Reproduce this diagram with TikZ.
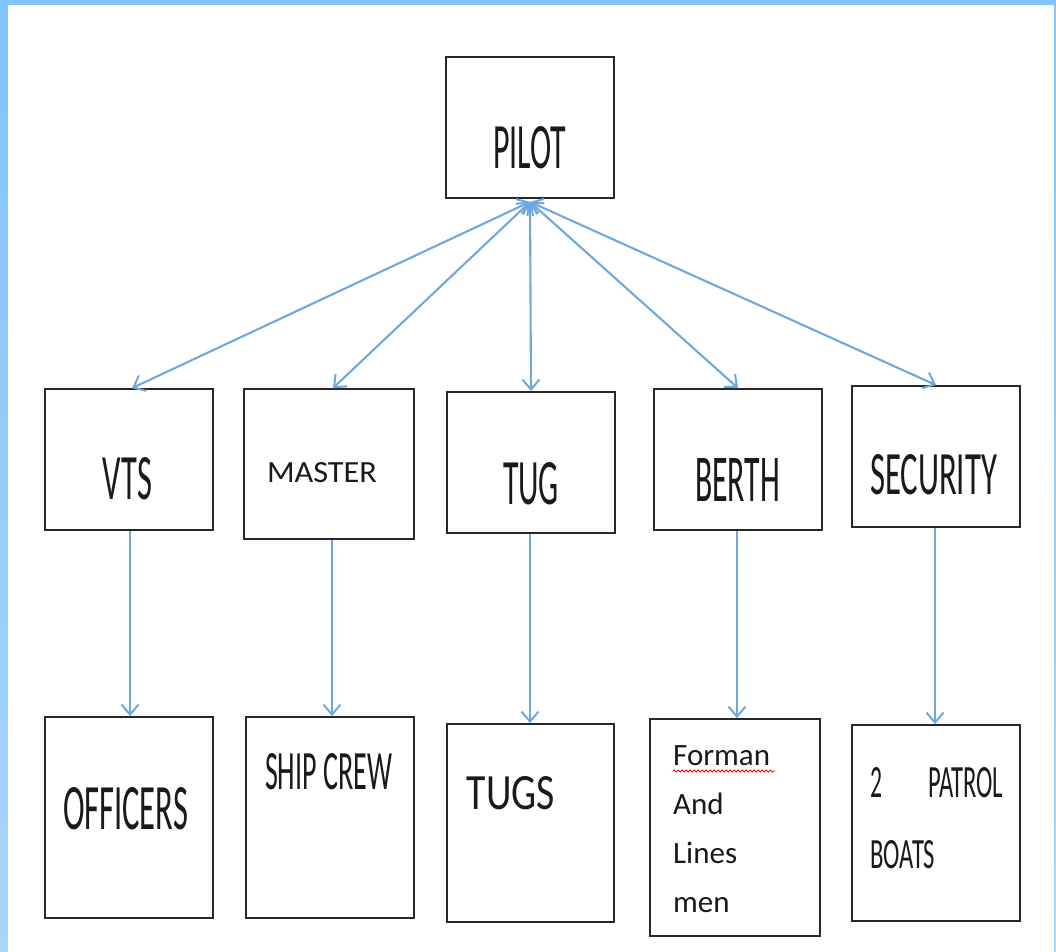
\documentclass[tikz,border=0pt]{standalone}
\usepackage{fontspec}
\setmainfont{Carlito}
\usepackage{graphicx}
\usetikzlibrary{arrows.meta,decorations.pathmorphing}
\definecolor{arrowblue}{RGB}{112,168,222}
\definecolor{frametop}{RGB}{130,195,250}
\definecolor{framebot}{RGB}{168,214,252}
\definecolor{boxline}{RGB}{40,40,40}
\definecolor{ink}{RGB}{25,25,30}
\newcommand{\cond}[3]{\resizebox{#1pt}{#2pt}{#3}}
\begin{document}
\begin{tikzpicture}[x=1pt,y=-1pt,
  orgbox/.style={draw=boxline, line width=1.8pt, fill=white, inner sep=0pt},
  lbl/.style={inner sep=0pt, text=ink},
  conn/.style={draw=arrowblue, line width=2.1pt},
  tipend/.style={-{Straight Barb[length=10pt,width=17pt,line width=2pt]}},
  tipboth/.style={{Straight Barb[length=10pt,width=17pt,line width=2pt]}-{Straight Barb[length=10pt,width=17pt,line width=2pt]}}
]
% frame
\useasboundingbox (0,0) rectangle (1056,951);
\shade[top color=frametop, bottom color=framebot] (0,0) rectangle (1056,951);
\fill[white] (8,5) rectangle (1054,960);

% boxes
\node[orgbox, minimum width=168pt, minimum height=141pt] (pilot) at (530,127.5) {};
\node[orgbox, minimum width=168pt, minimum height=141pt] (vts) at (129,459.5) {};
\node[orgbox, minimum width=170pt, minimum height=150pt] (master) at (329,464) {};
\node[orgbox, minimum width=168pt, minimum height=141pt] (tug) at (531,462.5) {};
\node[orgbox, minimum width=168pt, minimum height=141pt] (berth) at (738,459.5) {};
\node[orgbox, minimum width=168pt, minimum height=141pt] (security) at (936,456.5) {};
\node[orgbox, minimum width=168pt, minimum height=201pt] (officers) at (129,817.5) {};
\node[orgbox, minimum width=168pt, minimum height=201pt] (shipcrew) at (330,817.5) {};
\node[orgbox, minimum width=167pt, minimum height=198pt] (tugs) at (530.5,823) {};
\node[orgbox, minimum width=170pt, minimum height=217pt] (forman) at (735,827.5) {};
\node[orgbox, minimum width=168pt, minimum height=196pt] (patrol) at (936,823) {};

% labels
\node[lbl] (pilotlbl) at (529.5,148) {\cond{73}{42}{PILOT}};
\node[lbl] (vtslbl) at (127.5,479) {\cond{49}{42}{VTS}};
\node[lbl] (masterlbl) at (322,473) {\cond{110}{20}{MASTER}};
\node[lbl] (muglbl) at (531,484) {\cond{56}{42}{TUG}};
\node[lbl] (berthlbl) at (737.5,479.5) {\cond{85}{43}{BERTH}};
\node[lbl] (securitylbl) at (933.5,475) {\cond{127}{40}{SECURITY}};
\node[lbl] (officerslbl) at (125.5,809) {\cond{125}{42}{OFFICERS}};
\node[lbl] (shipcrewlbl) at (328.5,772) {\cond{127}{36}{SHIP CREW}};
\node[lbl] (tugslbl) at (511,793.5) {\cond{88}{33}{TUGS}};
\node[lbl, anchor=base west] (formanlbl) at (673,765)
  {\fontsize{31}{49}\selectfont\begin{tabular}[t]{@{}l@{}}Forman\\And\\Lines\\men\end{tabular}};
\draw[red, line width=0.8pt, decorate, decoration={snake, amplitude=1.1pt, segment length=4pt}]
  (673,771) -- (775,771);
\node[lbl, anchor=north west] (patrollbl) at (870,767)
  {\vbox{\offinterlineskip
    \hbox to 133pt{\cond{12}{30}{2}\hfill\cond{75}{30}{PATROL}}
    \vskip43pt
    \hbox{\cond{65}{28}{BOATS}}}};

% connectors from PILOT (double-headed)
\coordinate (hub) at ([yshift=-3pt]pilot.south);
\draw[conn, tipboth] (hub) -- ([xshift=3pt]vts.north);
\draw[conn, tipboth] (hub) -- ([xshift=4pt]master.north);
\draw[conn, tipboth] (hub) -- (tug.north);
\draw[conn, tipboth] (hub) -- (berth.north);
\draw[conn, tipboth] (hub) -- (security.north);

% lower connectors
\draw[conn, tipend] ([xshift=1pt]vts.south) -- ([xshift=1pt]vts.south |- officers.north);
\draw[conn, tipend] ([xshift=3pt]master.south) -- ([xshift=3pt]master.south |- shipcrew.north);
\draw[conn, tipend] ([xshift=-1pt]tug.south) -- ([xshift=-1pt]tug.south |- tugs.north);
\draw[conn, tipend] ([xshift=-1pt]berth.south) -- ([xshift=-1pt]berth.south |- forman.north);
\draw[conn, tipend] ([xshift=-1pt]security.south) -- ([xshift=-1pt]security.south |- patrol.north);
\end{tikzpicture}
\end{document}
